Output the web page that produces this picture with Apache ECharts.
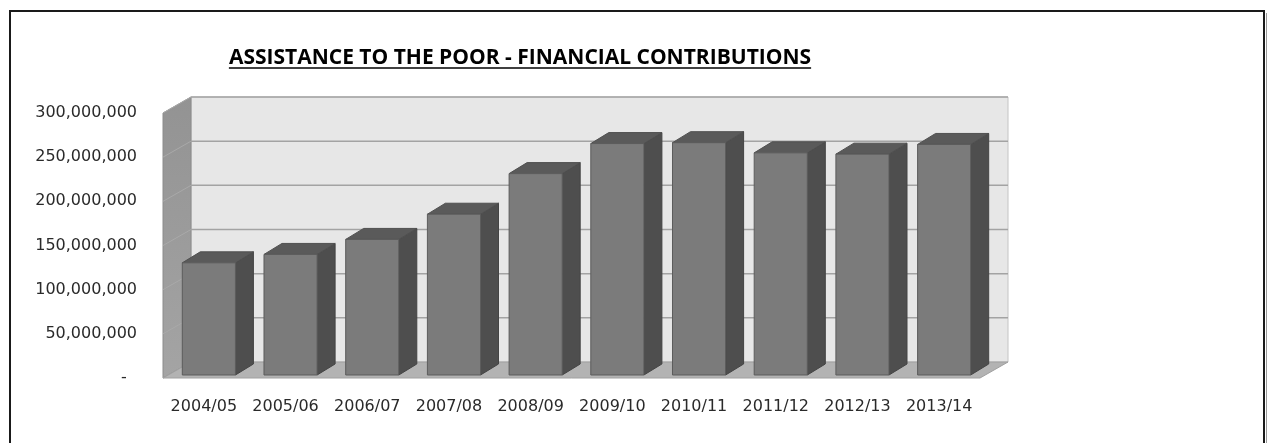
<!DOCTYPE html>
<html>
<head>
<meta charset="utf-8">
<title>Assistance to the Poor - Financial Contributions</title>
<script src="https://cdn.jsdelivr.net/npm/echarts@6/dist/echarts.min.js"></script>
<style>
  html, body { margin: 0; padding: 0; background: #ffffff; }
  #chart { width: 1269px; height: 443px; }
</style>
</head>
<body>
<div id="chart"></div>
<script>
// Financial years shown along the floor of the chart
const categories = ['2004/05', '2005/06', '2006/07', '2007/08', '2008/09',
                    '2009/10', '2010/11', '2011/12', '2012/13', '2013/14'];

// Contributions per year (rand)
const contributions = [127000000, 136500000, 153500000, 182000000, 228000000,
                       262000000, 263000000, 251500000, 250000000, 261000000];

// Value axis ticks and their printed labels
const yTicks = [0, 50000000, 100000000, 150000000, 200000000, 250000000, 300000000];
const yTickLabels = ['-  ', '50,000,000', '100,000,000', '150,000,000',
                     '200,000,000', '250,000,000', '300,000,000'];

const titleText = 'ASSISTANCE TO THE POOR - FINANCIAL CONTRIBUTIONS';

// 3-D look: offset of the back wall relative to the front plane
const DEPTH_X = 28, DEPTH_Y = -16;
// Bars sit slightly behind the front plane and are shallower than the box
const BAR_SHIFT_X = 5, BAR_SHIFT_Y = -3;
const BAR_DEPTH_X = 18, BAR_DEPTH_Y = -11;
const BAR_RATIO = 0.65;

const LABEL_FONT = 'DejaVu Sans';
const TITLE_FONT = 'bold 21px "Open Sans"';

function renderFrame(params, api) {
  const cs = params.coordSys;
  const x0 = cs.x, x1 = cs.x + cs.width;
  const yTop = cs.y, yBot = cs.y + cs.height;
  const children = [];

  // back wall
  children.push({
    type: 'polygon',
    shape: { points: [[x0 + DEPTH_X, yTop + DEPTH_Y], [x1 + DEPTH_X, yTop + DEPTH_Y],
                      [x1 + DEPTH_X, yBot + DEPTH_Y], [x0 + DEPTH_X, yBot + DEPTH_Y]] },
    style: { fill: '#e7e7e7', stroke: '#c4c4c4', lineWidth: 1 }
  });
  // left side wall
  children.push({
    type: 'polygon',
    shape: { points: [[x0, yTop], [x0 + DEPTH_X, yTop + DEPTH_Y],
                      [x0 + DEPTH_X, yBot + DEPTH_Y], [x0, yBot]] },
    style: {
      fill: new echarts.graphic.LinearGradient(0, 0, 0, 1, [
        { offset: 0, color: '#939393' }, { offset: 1, color: '#a4a4a4' }
      ]),
      stroke: '#8c8c8c', lineWidth: 1
    }
  });
  // floor
  children.push({
    type: 'polygon',
    shape: { points: [[x0, yBot], [x0 + DEPTH_X, yBot + DEPTH_Y],
                      [x1 + DEPTH_X, yBot + DEPTH_Y], [x1, yBot]] },
    style: { fill: '#b3b3b3', stroke: '#a0a0a0', lineWidth: 1 }
  });
  // gridlines across the back wall and down the side wall
  yTicks.forEach(function (v) {
    if (v === 0) return;
    const y = api.coord([0, v])[1];
    children.push({
      type: 'line',
      shape: { x1: x0 + DEPTH_X, y1: y + DEPTH_Y, x2: x1 + DEPTH_X, y2: y + DEPTH_Y },
      style: { stroke: '#a3a3a3', lineWidth: 1.5 }
    });
    children.push({
      type: 'line',
      shape: { x1: x0, y1: y, x2: x0 + DEPTH_X, y2: y + DEPTH_Y },
      style: { stroke: '#a9a9a9', lineWidth: 1 }
    });
  });
  return { type: 'group', children: children };
}

function renderBar(params, api) {
  const idx = api.value(0);
  const base = api.coord([idx, 0]);
  const top = api.coord([idx, api.value(1)]);
  const bw = api.size([1, 0])[0] * BAR_RATIO;
  const fx = base[0] + BAR_SHIFT_X - bw / 2;
  const topY = top[1] + BAR_SHIFT_Y;
  const botY = base[1] + BAR_SHIFT_Y;
  return {
    type: 'group',
    children: [
      {
        // right-hand side face
        type: 'polygon',
        shape: { points: [[fx + bw, topY], [fx + bw + BAR_DEPTH_X, topY + BAR_DEPTH_Y],
                          [fx + bw + BAR_DEPTH_X, botY + BAR_DEPTH_Y], [fx + bw, botY]] },
        style: { fill: '#4e4e4e', stroke: '#444444', lineWidth: 1 }
      },
      {
        // top face
        type: 'polygon',
        shape: { points: [[fx, topY], [fx + BAR_DEPTH_X, topY + BAR_DEPTH_Y],
                          [fx + bw + BAR_DEPTH_X, topY + BAR_DEPTH_Y], [fx + bw, topY]] },
        style: { fill: '#5a5a5a', stroke: '#505050', lineWidth: 1 }
      },
      {
        // front face
        type: 'rect',
        shape: { x: fx, y: topY, width: bw, height: botY - topY },
        style: { fill: '#7b7b7b', stroke: '#5c5c5c', lineWidth: 1 }
      }
    ]
  };
}

// measure the title so the underline spans it exactly
const measureCtx = document.createElement('canvas').getContext('2d');
measureCtx.font = TITLE_FONT;
const titleWidth = measureCtx.measureText(titleText).width;
const TITLE_CX = 520, TITLE_CY = 58;

const chart = echarts.init(document.getElementById('chart'), null, { renderer: 'canvas' });

chart.setOption({
  animation: false,
  backgroundColor: '#ffffff',
  grid: { left: 163, right: 289, top: 113, bottom: 65, containLabel: false },
  xAxis: {
    type: 'category',
    data: categories,
    axisLine: { show: false },
    axisTick: { show: false },
    axisLabel: {
      interval: 0,
      hideOverlap: false,
      margin: 21,
      fontFamily: LABEL_FONT,
      fontSize: 16,
      color: '#2a2a2a'
    }
  },
  yAxis: {
    type: 'value',
    min: 0,
    max: 300000000,
    interval: 50000000,
    axisLine: { show: false },
    axisTick: { show: false },
    splitLine: { show: false },
    axisLabel: {
      margin: 26,
      fontFamily: LABEL_FONT,
      fontSize: 16,
      color: '#2a2a2a',
      formatter: function (v) { return yTickLabels[yTicks.indexOf(v)]; }
    }
  },
  series: [
    {
      type: 'custom',
      name: 'frame',
      silent: true,
      data: [[0, 0]],
      renderItem: renderFrame,
      z: 1
    },
    {
      type: 'custom',
      name: 'Financial contributions',
      data: contributions.map(function (v, i) { return [i, v]; }),
      encode: { x: 0, y: 1 },
      renderItem: renderBar,
      z: 2
    }
  ],
  graphic: [
    {
      type: 'rect',
      shape: { x: 10, y: 11, width: 1254, height: 460 },
      style: { fill: 'none', stroke: '#1a1a1a', lineWidth: 2 },
      z: 10
    },
    {
      type: 'line',
      shape: { x1: 1266.5, y1: 13, x2: 1266.5, y2: 443 },
      style: { stroke: '#9a9a9a', lineWidth: 1 },
      z: 10
    },
    {
      type: 'text',
      x: TITLE_CX,
      y: TITLE_CY,
      style: {
        text: titleText,
        font: TITLE_FONT,
        fill: '#000000',
        textAlign: 'center',
        textVerticalAlign: 'middle'
      },
      z: 10
    },
    {
      type: 'line',
      shape: { x1: TITLE_CX - titleWidth / 2, y1: TITLE_CY + 10, x2: TITLE_CX + titleWidth / 2, y2: TITLE_CY + 10 },
      style: { stroke: '#000000', lineWidth: 1.5 },
      z: 10
    }
  ]
});
</script>
</body>
</html>
